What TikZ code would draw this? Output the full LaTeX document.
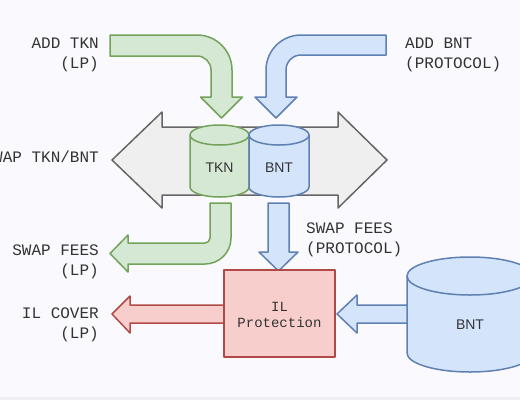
\documentclass[tikz,border=0pt]{standalone}
\usepackage{fontspec}
\setmainfont{Liberation Sans}
\newfontfamily\labelfont{Liberation Mono}
\definecolor{bgc}{RGB}{250,250,254}
\definecolor{bandc}{RGB}{240,240,244}
\definecolor{greenfill}{HTML}{D5E8D4}
\definecolor{greenline}{HTML}{73A25A}
\definecolor{bluefill}{HTML}{D4E4FA}
\definecolor{blueline}{HTML}{5F80B2}
\definecolor{redfill}{HTML}{F8CECC}
\definecolor{redline}{HTML}{B04A46}
\definecolor{grayfill}{HTML}{EFEFEF}
\definecolor{grayline}{HTML}{666666}
\definecolor{txt}{HTML}{333333}
\begin{document}
\begin{tikzpicture}[x=1pt,y=-1pt,
  greenshape/.style={fill=greenfill,draw=greenline,line width=1.5pt,line join=round},
  blueshape/.style={fill=bluefill,draw=blueline,line width=1.5pt,line join=round},
  redshape/.style={fill=redfill,draw=redline,line width=1.5pt,line join=round},
  grayshape/.style={fill=grayfill,draw=grayline,line width=1.5pt,line join=round},
  lbl/.style={font=\labelfont\fontsize{16}{20}\selectfont,text=txt,inner sep=0pt},
  cyltext/.style={font=\fontsize{14}{16}\selectfont,text=txt,inner sep=0pt}]
\useasboundingbox (0,0) rectangle (520,400);
\fill[bgc] (0,0) rectangle (520,400);
\fill[bandc] (0,397) rectangle (520,400);
\begin{scope}
\clip (0,0) rectangle (520,400);
% gray double arrow
\draw[grayshape] (112,160) -- (162,112) -- (162,127) -- (338,127) -- (338,112) -- (387,160)
  -- (338,208) -- (338,195) -- (162,195) -- (162,208) -- cycle;
% green add arrow
\draw[greenshape] (110,35) -- (197,35) arc (-90:0:35) -- (232,97) -- (242.5,97) -- (221.5,118)
  -- (200.5,97) -- (211,97) -- (211,70) arc (0:-90:14) -- (110,56) -- cycle;
% blue add arrow
\draw[blueshape] (386,35) -- (301,35) arc (-90:-180:35) -- (266,97) -- (255,97) -- (276,118)
  -- (297,97) -- (286,97) -- (286,70) arc (-180:-90:15) -- (386,55) -- cycle;
% green swap fees arrow
\draw[greenshape] (210,203) -- (231,203) -- (231,238) arc (0:90:26) -- (128,264) -- (128,272)
  -- (110,253.5) -- (128,235) -- (128,243) -- (205,243) arc (90:0:5) -- cycle;
% blue swap fees arrow
\draw[blueshape] (268,203) -- (289,203) -- (289,252) -- (298,252) -- (278.5,271) -- (259,252)
  -- (268,252) -- cycle;
% TKN cylinder
\draw[greenshape] (190,135) -- (190,187) arc (180:0:29.5 and 10) -- (249,135) arc (0:-180:29.5 and 10) -- cycle;
\draw[greenline,line width=1.5pt] (190,135) arc (180:0:29.5 and 10);
\node[cyltext] (tkn) at (219.5,168) {TKN};
% BNT cylinder
\draw[blueshape] (249,135) -- (249,187) arc (180:0:30 and 10) -- (309,135) arc (0:-180:30 and 10) -- cycle;
\draw[blueline,line width=1.5pt] (249,135) arc (180:0:30 and 10);
\node[cyltext] (bnt) at (279,168) {BNT};
% red IL cover arrow
\draw[redshape] (224,305) -- (130,305) -- (130,296) -- (112,314) -- (130,333) -- (130,323)
  -- (224,323) -- cycle;
% IL protection box
\draw[redshape] (224,270) rectangle (335,357);
\node[font=\labelfont\fontsize{14}{16}\selectfont,text=txt,align=center,inner sep=0pt] (il) at (279.5,315) {IL\\Protection};
% blue arrow from big BNT
\draw[blueshape] (408,305) -- (357,305) -- (357,295) -- (337,314) -- (357,333) -- (357,323)
  -- (408,323) -- cycle;
% big BNT cylinder
\draw[blueshape] (407,276) -- (407,353) arc (180:0:63 and 19) -- (533,276) arc (0:-180:63 and 19) -- cycle;
\draw[blueline,line width=1.5pt] (407,276) arc (180:0:63 and 19);
\node[cyltext] (bigbnt) at (470,325) {BNT};
% labels
\node[lbl,anchor=east,align=right] (addtkn) at (99,55) {ADD TKN\\(LP)};
\node[lbl,anchor=west,align=left] (addbnt) at (405,55) {ADD BNT\\(PROTOCOL)};
\node[lbl,anchor=east] (swap) at (99,157) {SWAP TKN/BNT};
\node[lbl,anchor=east,align=right] (feeslp) at (99,262) {SWAP FEES\\(LP)};
\node[lbl,anchor=west,align=left] (feesprot) at (306,240) {SWAP FEES\\(PROTOCOL)};
\node[lbl,anchor=east,align=right] (ilcover) at (99,325) {IL COVER\\(LP)};
\end{scope}
\end{tikzpicture}
\end{document}
